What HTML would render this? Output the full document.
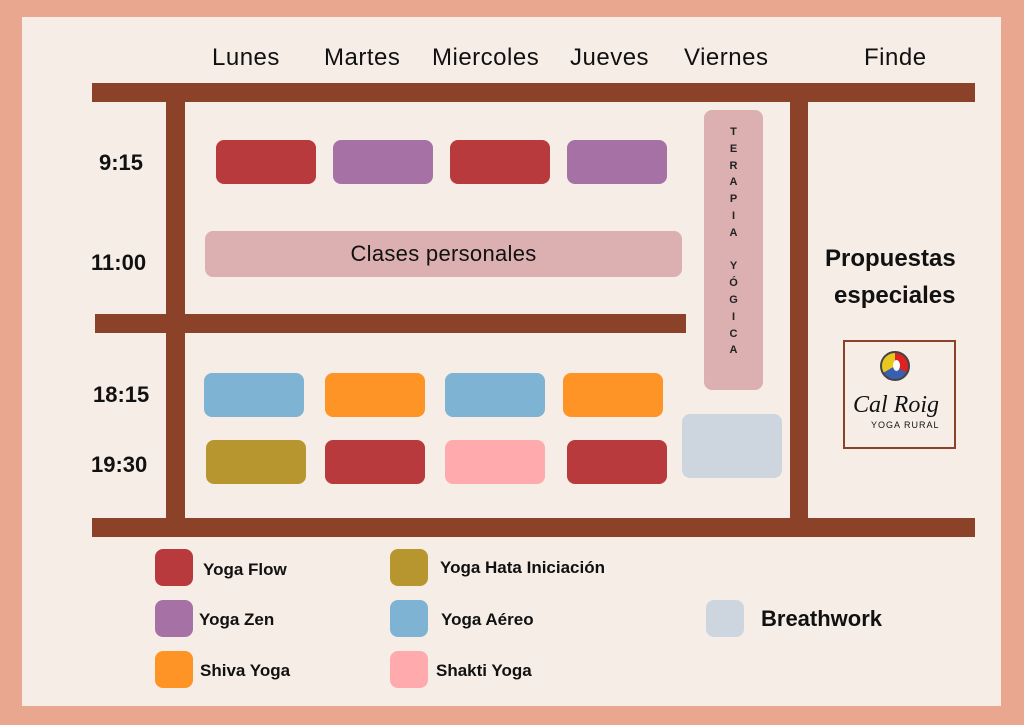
<!DOCTYPE html>
<html><head><meta charset="utf-8"><style>
body{margin:0;width:1024px;height:725px;background:#E8A78E;position:relative;overflow:hidden;font-family:"Liberation Sans",sans-serif;color:#111}
div{position:absolute;box-sizing:border-box}
.in{left:22px;top:17px;width:979px;height:689px;background:#F6EEE6}
.bar{background:#8B4229}
.r{border-radius:8px}
.t{font-size:24px;white-space:nowrap;letter-spacing:0.5px}
.h{font-size:22px;font-weight:bold;white-space:nowrap}
.lg{font-size:17px;font-weight:bold;white-space:nowrap}
.F{background:#B93A3D}.Z{background:#A672A5}.A{background:#7EB3D3}.S{background:#FF9426}.H{background:#B8962F}.K{background:#FFAAAD}.B{background:#CDD6DE}
</style></head><body>
<div class="in"></div>
<div class="t" style="left:212px;top:44px">Lunes</div>
<div class="t" style="left:324px;top:44px">Martes</div>
<div class="t" style="left:432px;top:44px">Miercoles</div>
<div class="t" style="left:570px;top:44px">Jueves</div>
<div class="t" style="left:684px;top:44px">Viernes</div>
<div class="t" style="left:864px;top:44px">Finde</div>
<div class="bar" style="left:92px;top:83px;width:883px;height:19px"></div>
<div class="bar" style="left:92px;top:518px;width:883px;height:19px"></div>
<div class="bar" style="left:166px;top:100px;width:19px;height:420px"></div>
<div class="bar" style="left:95px;top:314px;width:591px;height:19px"></div>
<div class="bar" style="left:790px;top:100px;width:18px;height:420px"></div>
<div class="h" style="left:99px;top:150px">9:15</div>
<div class="h" style="left:91px;top:250px">11:00</div>
<div class="h" style="left:93px;top:382px">18:15</div>
<div class="h" style="left:91px;top:452px">19:30</div>
<div class="r F" style="left:216px;top:140px;width:100px;height:44px"></div>
<div class="r Z" style="left:333px;top:140px;width:100px;height:44px"></div>
<div class="r F" style="left:450px;top:140px;width:100px;height:44px"></div>
<div class="r Z" style="left:567px;top:140px;width:100px;height:44px"></div>
<div class="r" style="left:205px;top:231px;width:477px;height:46px;background:#DCB0B0;text-align:center;line-height:46px;font-size:22px;letter-spacing:0.3px">Clases personales</div>
<div class="r" style="left:704px;top:110px;width:59px;height:280px;background:#DCB0B0"></div>
<div style="left:704px;top:124px;width:59px;text-align:center;font-size:11px;line-height:16.8px;font-weight:bold;color:#222">T<br>E<br>R<br>A<br>P<br>I<br>A<br><br>Y<br>Ó<br>G<br>I<br>C<br>A</div>
<div class="h" style="left:825px;top:245px;font-size:24px">Propuestas</div>
<div class="h" style="left:834px;top:282px;font-size:24px">especiales</div>
<div style="left:843px;top:340px;width:113px;height:109px;border:2px solid #8B4229"></div>
<div style="left:880px;top:351px;width:30px;height:30px;border-radius:50%;background:conic-gradient(#D22 0 120deg,#3A5FB0 120deg 240deg,#E8C81E 240deg);border:2px solid #444"></div>
<div style="left:893px;top:360px;width:7px;height:11px;border-radius:50%;background:#fff"></div>
<div style="left:853px;top:392px;font-family:'Liberation Serif',serif;font-style:italic;font-size:24px">Cal Roig</div>
<div style="left:871px;top:420px;font-size:9px;letter-spacing:1px">YOGA RURAL</div>
<div class="r A" style="left:204px;top:373px;width:100px;height:44px"></div>
<div class="r S" style="left:325px;top:373px;width:100px;height:44px"></div>
<div class="r A" style="left:445px;top:373px;width:100px;height:44px"></div>
<div class="r S" style="left:563px;top:373px;width:100px;height:44px"></div>
<div class="r H" style="left:206px;top:440px;width:100px;height:44px"></div>
<div class="r F" style="left:325px;top:440px;width:100px;height:44px"></div>
<div class="r K" style="left:445px;top:440px;width:100px;height:44px"></div>
<div class="r F" style="left:567px;top:440px;width:100px;height:44px"></div>
<div class="r B" style="left:682px;top:414px;width:100px;height:64px"></div>
<div class="r F" style="left:155px;top:549px;width:38px;height:37px"></div>
<div class="lg" style="left:203px;top:560px">Yoga Flow</div>
<div class="r Z" style="left:155px;top:600px;width:38px;height:37px"></div>
<div class="lg" style="left:199px;top:610px">Yoga Zen</div>
<div class="r S" style="left:155px;top:651px;width:38px;height:37px"></div>
<div class="lg" style="left:200px;top:661px">Shiva Yoga</div>
<div class="r H" style="left:390px;top:549px;width:38px;height:37px"></div>
<div class="lg" style="left:440px;top:558px">Yoga Hata Iniciación</div>
<div class="r A" style="left:390px;top:600px;width:38px;height:37px"></div>
<div class="lg" style="left:441px;top:610px">Yoga Aéreo</div>
<div class="r K" style="left:390px;top:651px;width:38px;height:37px"></div>
<div class="lg" style="left:436px;top:661px">Shakti Yoga</div>
<div class="r B" style="left:706px;top:600px;width:38px;height:37px"></div>
<div class="lg" style="left:761px;top:606px;font-size:22px">Breathwork</div>
</body></html>
